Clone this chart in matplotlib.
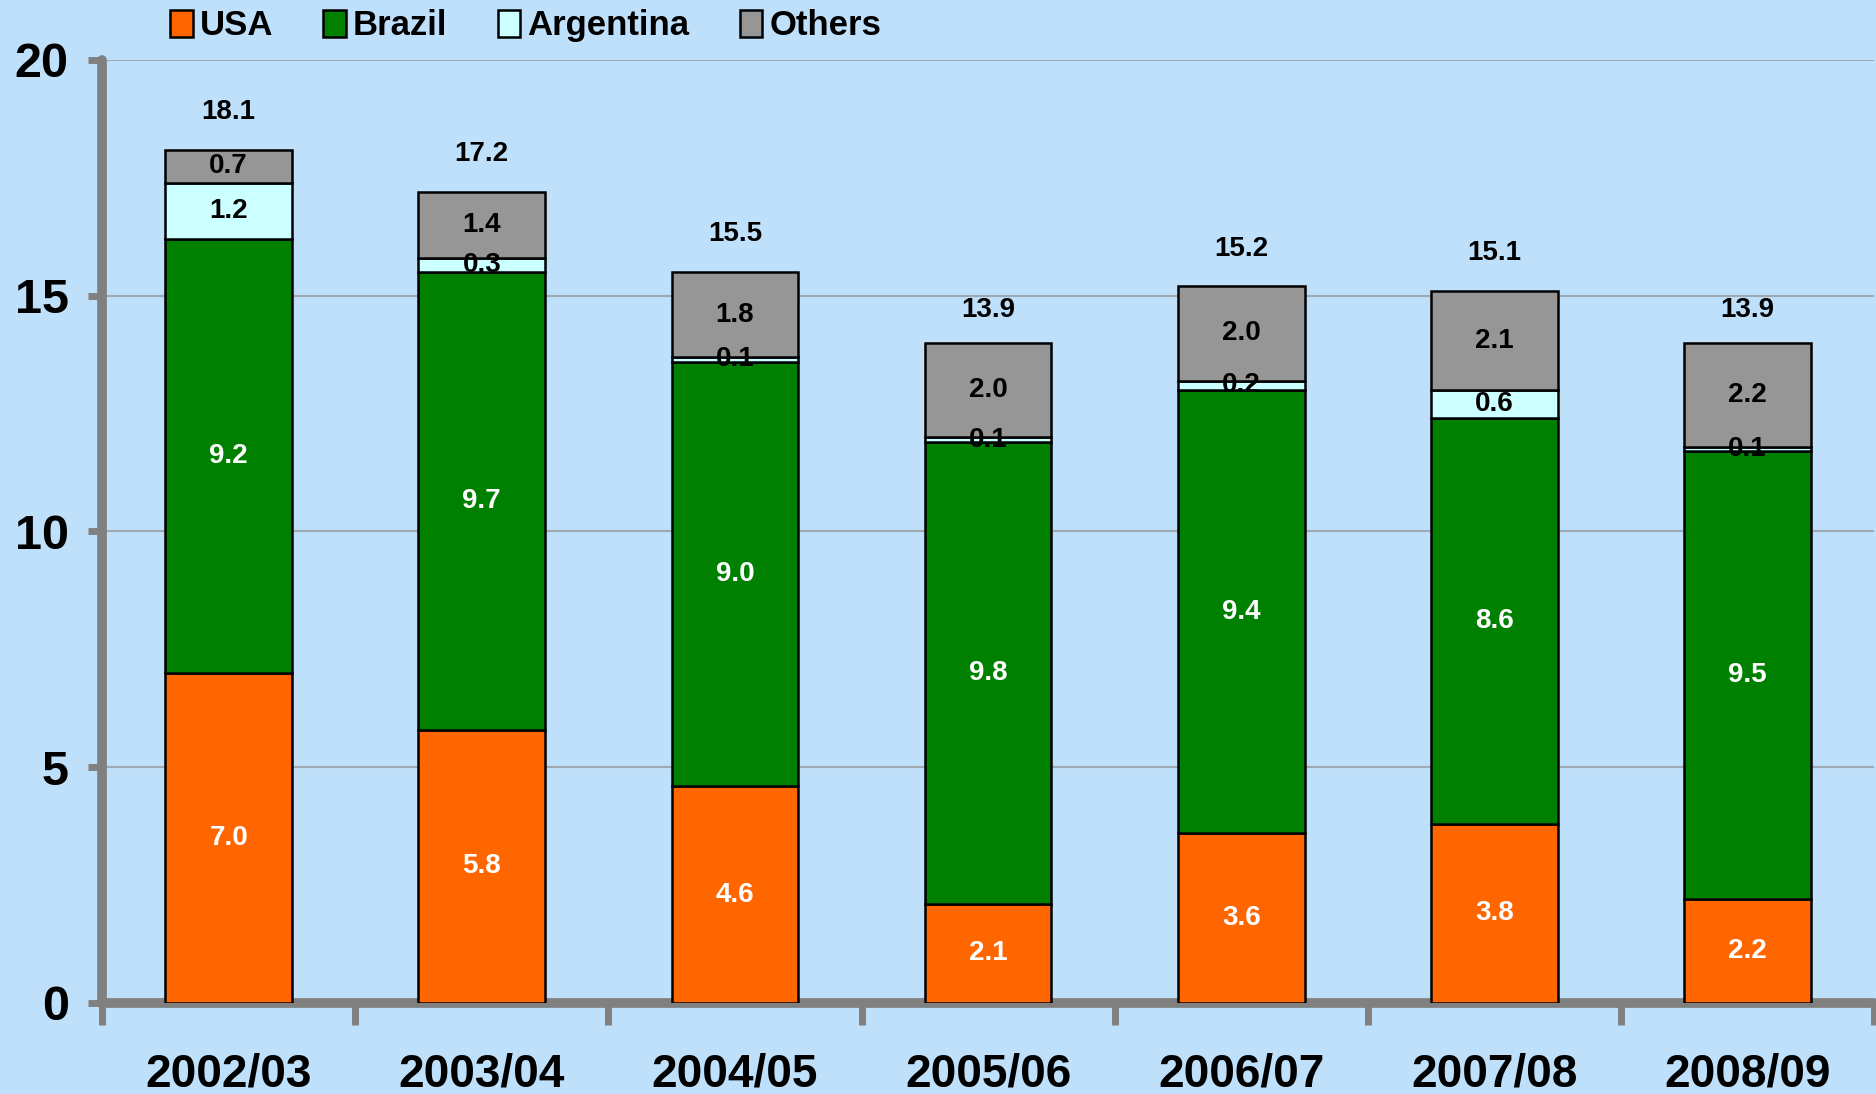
import matplotlib.pyplot as plt
import numpy as np

seasons = ['2002/03', '2003/04', '2004/05', '2005/06', '2006/07', '2007/08', '2008/09']
usa = [7.0, 5.8, 4.6, 2.1, 3.6, 3.8, 2.2]
brazil = [9.2, 9.7, 9.0, 9.8, 9.4, 8.6, 9.5]
argentina = [1.2, 0.3, 0.1, 0.1, 0.2, 0.6, 0.1]
others = [0.7, 1.4, 1.8, 2.0, 2.0, 2.1, 2.2]
totals = [18.1, 17.2, 15.5, 13.9, 15.2, 15.1, 13.9]

series = [('USA', usa, '#FF6600', 'white'),
          ('Brazil', brazil, '#008000', 'white'),
          ('Argentina', argentina, '#CCFFFF', 'black'),
          ('Others', others, '#969696', 'black')]

bg = '#BFE0FB'
axis_grey = '#808080'
plt.rcParams['font.family'] = ['Liberation Sans', 'DejaVu Sans']

fig = plt.figure(figsize=(18.76, 10.94), dpi=100, facecolor=bg)
ax = fig.add_axes([0.0544, 0.0832, 0.9446, 0.862], facecolor=bg)

x = np.arange(len(seasons))
bottom = np.zeros(len(seasons))
for name, vals, color, tcol in series:
    vals = np.array(vals)
    ax.bar(x, vals, 0.5, bottom=bottom, color=color, edgecolor='black',
           linewidth=1.8, label=name, zorder=3)
    for xi, b, v in zip(x, bottom, vals):
        ax.text(xi, b + v / 2, f'{v:.1f}', ha='center', va='center',
                fontsize=20, fontweight='bold', color=tcol, zorder=4)
    bottom += vals

for xi, t in zip(x, totals):
    ax.text(xi, t + 0.8, f'{t:.1f}', ha='center', va='center',
            fontsize=20, fontweight='bold', color='black', zorder=4)

ax.set_xlim(-0.5, len(seasons) - 0.5)
ax.set_ylim(0, 20)
ax.set_yticks([0, 5, 10, 15, 20])
ax.yaxis.grid(True, color='#A0A8B0', linewidth=1.5, zorder=0)
ax.set_axisbelow(True)

for s in ['top', 'right']:
    ax.spines[s].set_visible(False)
for s in ['left', 'bottom']:
    ax.spines[s].set_color(axis_grey)
    ax.spines[s].set_linewidth(7)
    ax.spines[s].set_capstyle('round')

ax.set_xticks(x)
ax.set_xticklabels(seasons, fontsize=33, fontweight='bold')
ax.tick_params(axis='x', length=0, pad=36)
ax.set_xticks(np.arange(len(seasons) + 1) - 0.5, minor=True)
ax.tick_params(axis='x', which='minor', length=16, width=5, color=axis_grey, direction='out')
ax.tick_params(axis='y', length=10, width=5, color=axis_grey, pad=14)
for lab in ax.get_yticklabels():
    lab.set_fontsize(35)
    lab.set_fontweight('bold')

fig.legend(loc='upper left', bbox_to_anchor=(0.074, 1.02), ncol=4, frameon=False,
           prop={'size': 25, 'weight': 'bold'},
           handlelength=0.65, handleheight=0.85, handletextpad=0.2, columnspacing=1.45)

fig.savefig('out.png', dpi=100, facecolor=bg)
